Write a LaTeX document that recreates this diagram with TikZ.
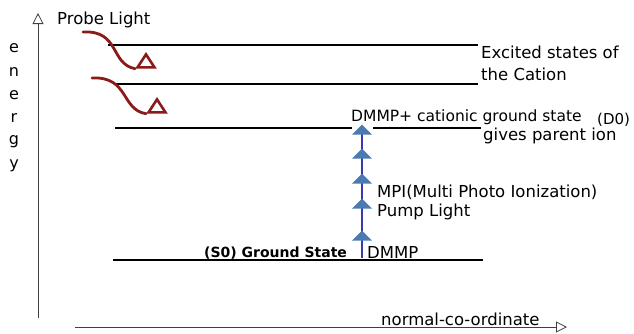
\documentclass[tikz,border=0pt]{standalone}
\usepackage{fontspec}
\setmainfont{DejaVu Sans}
\usetikzlibrary{arrows.meta,shapes.geometric}
\definecolor{probered}{HTML}{8B1A1A}
\definecolor{pumpblue}{HTML}{3A3AB0}
\definecolor{trifill}{HTML}{4A7AB0}
\tikzset{
  lvl/.style={line width=2.8pt, black},
  axis/.style={line width=0.8pt, black!75, -{Triangle[open,width=11pt,length=11pt]}},
  lbl/.style={font=\fontsize{16.5}{18}\selectfont, inner sep=0pt, anchor=west},
  ptri/.style={isosceles triangle, shape border rotate=90, isosceles triangle stretches,
     minimum width=20pt, minimum height=10pt, inner sep=0pt, fill=trifill, anchor=apex},
  otri/.style={isosceles triangle, shape border rotate=90, isosceles triangle stretches,
     minimum width=17pt, minimum height=13pt, inner sep=0pt, draw=probered, line width=2.6pt, anchor=apex},
  probe/.style={probered, line width=2.8pt, line cap=round}
}
\begin{document}
\begin{tikzpicture}[x=1pt,y=-1pt]
\useasboundingbox (0,0) rectangle (634,333);
% axes
\coordinate (yb) at (38,318);
\coordinate (yt) at (38,13);
\draw[axis] (yb) -- (yt);
\coordinate (xl) at (75,327);
\coordinate (xr) at (567,327);
\draw[axis] (xl) -- (xr);
\node[lbl] (xlab) at (381,319) {normal-co-ordinate};
\node[lbl] (plab) at (57,20) {Probe Light};
\foreach \c/\yy [count=\i] in {e/48,n/72,e/95,r/118,g/142,y/166}
  \node[font=\fontsize{16}{18}\selectfont, inner sep=0pt] (en\i) at (14,\yy) {\c};
% levels
\coordinate (l1a) at (108,45); \coordinate (l1b) at (478,45);
\coordinate (l2a) at (115,84); \coordinate (l2b) at (478,84);
\coordinate (l3a) at (115,128); \coordinate (l3b) at (352,128);
\coordinate (l3c) at (373,128); \coordinate (l3d) at (481,128);
\coordinate (g0a) at (113,260); \coordinate (g0b) at (483,260);
\draw[lvl] (l1a) -- (l1b);
\draw[lvl] (l2a) -- (l2b);
\draw[lvl] (l3a) -- (l3b);
\draw[lvl] (l3c) -- (l3d);
\draw[lvl] (g0a) -- (g0b);
% labels
\node[lbl] (exc1) at (481,52) {Excited states of};
\node[lbl] (exc2) at (481,74) {the Cation};
\node[lbl, font=\fontsize{15.5}{17}\selectfont] (cat) at (351,117) {DMMP+ cationic ground state};
\node[lbl, font=\fontsize{15}{17}\selectfont] (d0) at (597,120) {(D0)};
\node[lbl] (par) at (483,136) {gives parent ion};
\node[lbl] (mpi) at (377,192) {MPI(Multi Photo Ionization)};
\node[lbl] (pump) at (377,212) {Pump Light};
\node[lbl] (dmmp) at (367,252) {DMMP};
\node[lbl, font=\bfseries\fontsize{14}{17}\selectfont] (gs) at (204,253) {(S0) Ground State};
% pump arrow
\coordinate (pb) at (362,258);
\coordinate (pt) at (362,127);
\draw[pumpblue, line width=2.4pt] (pb) -- (pt);
\foreach \yy [count=\i] in {230,198,173,148,124}
  \node[ptri] (tri\i) at (362,\yy) {};
% probe arrows
\coordinate (p1s) at (83,32);
\node[otri] (o1) at (146,51) {};
\draw[probe] (p1s) .. controls (120,30) and (110,64) .. (o1.left corner);
\coordinate (p2s) at (92,78);
\node[otri] (o2) at (157,96) {};
\draw[probe] (p2s) .. controls (129,76) and (121,110) .. (o2.left corner);
\end{tikzpicture}
\end{document}
